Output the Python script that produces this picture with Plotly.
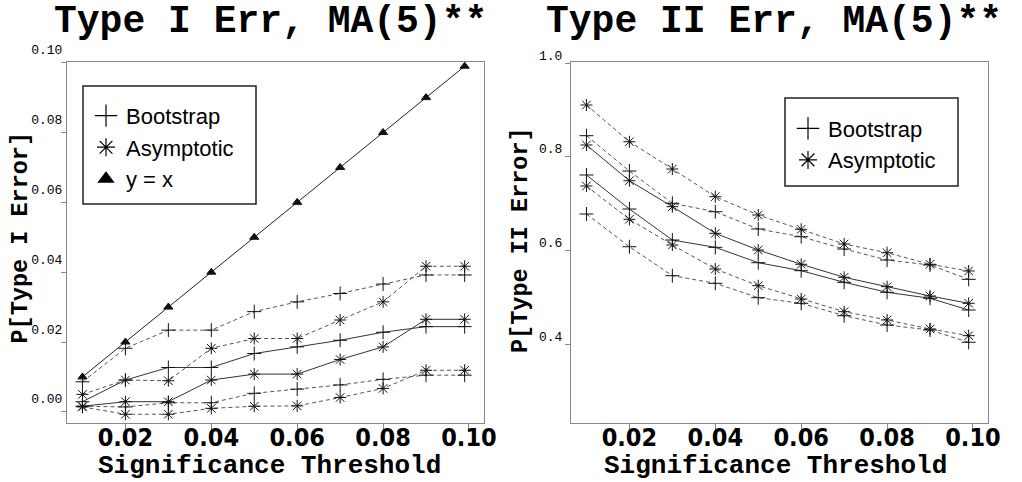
import plotly.graph_objects as go

# ---------------- data ----------------
thresholds = [0.01, 0.02, 0.03, 0.04, 0.05, 0.06, 0.07, 0.08, 0.09, 0.099]

# Type I error (left panel)
t1_boot_mid = [0.0029, 0.0091, 0.0127, 0.0127, 0.0167, 0.0186, 0.0205, 0.0228, 0.0244, 0.0244]
t1_boot_hi = [0.0086, 0.0182, 0.0234, 0.0234, 0.0287, 0.0315, 0.0339, 0.0366, 0.0392, 0.0392]
t1_boot_lo = [0.0016, 0.0014, 0.0026, 0.0026, 0.0053, 0.0065, 0.0077, 0.0093, 0.0105, 0.0105]
t1_asym_mid = [0.0016, 0.0029, 0.0029, 0.0091, 0.0108, 0.0108, 0.0150, 0.0186, 0.0265, 0.0265]
t1_asym_hi = [0.0050, 0.0091, 0.0089, 0.0182, 0.0210, 0.0210, 0.0263, 0.0315, 0.0417, 0.0417]
t1_asym_lo = [0.0014, -0.0007, -0.0007, 0.0010, 0.0016, 0.0017, 0.0041, 0.0067, 0.0119, 0.0119]
t1_identity = thresholds

# Type II error (right panel)
t2_boot_mid = [0.7614, 0.6888, 0.6226, 0.6070, 0.5742, 0.5571, 0.5323, 0.5110, 0.4982, 0.4732]
t2_boot_hi = [0.8453, 0.7699, 0.7010, 0.6830, 0.6461, 0.6297, 0.6034, 0.5799, 0.5693, 0.5387]
t2_boot_lo = [0.6781, 0.6083, 0.5464, 0.5302, 0.4995, 0.4875, 0.4610, 0.4412, 0.4305, 0.4043]
t2_asym_mid = [0.8254, 0.7492, 0.6938, 0.6369, 0.6013, 0.5708, 0.5430, 0.5230, 0.5031, 0.4875]
t2_asym_hi = [0.9108, 0.8324, 0.7742, 0.7151, 0.6760, 0.6455, 0.6141, 0.5955, 0.5708, 0.5565]
t2_asym_lo = [0.7379, 0.6668, 0.6120, 0.5607, 0.5251, 0.4967, 0.4696, 0.4519, 0.4327, 0.4184]

x_ticks = [0.02, 0.04, 0.06, 0.08, 0.10]
y1_ticks = [0.00, 0.02, 0.04, 0.06, 0.08, 0.10]
y2_ticks = [0.4, 0.6, 0.8, 1.0]

titles = ["Type I Err, MA(5)**", "Type II Err, MA(5)**"]
y_titles = ["P[Type I Error]", "P[Type II Error]"]
x_title = "Significance Threshold"
legend_names = ["Bootstrap", "Asymptotic", "y = x"]

# ---------------- styling ----------------
W, H = 1022, 482
MONO = "Liberation Mono, Courier New, monospace"
SANS = "Liberation Sans, Arial, sans-serif"
TICKX = "DejaVu Sans Condensed, Liberation Sans Narrow, sans-serif"
BOOT_SYM = "cross-thin-open"
ASYM_SYM = "asterisk-open"
DASH = "4px,3px"

fig = go.Figure()


def add_line(x, y, sym, dashed, xa, ya, color, size=10):
    fig.add_trace(go.Scatter(
        x=x, y=y, mode="lines+markers", xaxis=xa, yaxis=ya, showlegend=False,
        line=dict(color=color, width=1, dash=DASH if dashed else "solid"),
        marker=dict(symbol=sym, size=size, color="#111", line=dict(color="#111", width=1)),
        hoverinfo="skip"))


SOLID_C = "#333333"
DASH_C = "#555555"

# left panel
add_line(thresholds, t1_identity, "triangle-up", False, "x", "y", "#222222", size=8)
add_line(thresholds, t1_boot_hi, BOOT_SYM, True, "x", "y", DASH_C)
add_line(thresholds, t1_boot_mid, BOOT_SYM, False, "x", "y", SOLID_C)
add_line(thresholds, t1_boot_lo, BOOT_SYM, True, "x", "y", DASH_C)
add_line(thresholds, t1_asym_hi, ASYM_SYM, True, "x", "y", DASH_C)
add_line(thresholds, t1_asym_mid, ASYM_SYM, False, "x", "y", SOLID_C)
add_line(thresholds, t1_asym_lo, ASYM_SYM, True, "x", "y", DASH_C)

# right panel
add_line(thresholds, t2_boot_hi, BOOT_SYM, True, "x2", "y2", DASH_C)
add_line(thresholds, t2_boot_mid, BOOT_SYM, False, "x2", "y2", SOLID_C)
add_line(thresholds, t2_boot_lo, BOOT_SYM, True, "x2", "y2", DASH_C)
add_line(thresholds, t2_asym_hi, ASYM_SYM, True, "x2", "y2", DASH_C)
add_line(thresholds, t2_asym_mid, ASYM_SYM, False, "x2", "y2", SOLID_C)
add_line(thresholds, t2_asym_lo, ASYM_SYM, True, "x2", "y2", DASH_C)


# legend-only traces
def add_legend(name, sym, legend, size):
    fig.add_trace(go.Scatter(
        x=[None], y=[None], mode="markers", name=name, legend=legend,
        xaxis="x" if legend == "legend" else "x2", yaxis="y" if legend == "legend" else "y2",
        marker=dict(symbol=sym, size=size, color="#000", line=dict(color="#000", width=1.2))))


add_legend(legend_names[0], BOOT_SYM, "legend", 16)
add_legend(legend_names[1], ASYM_SYM, "legend", 15)
add_legend(legend_names[2], "triangle-up", "legend", 13)
add_legend(legend_names[0], BOOT_SYM, "legend2", 16)
add_legend(legend_names[1], ASYM_SYM, "legend2", 15)

axis_common = dict(
    showgrid=False, zeroline=False, showline=True, mirror=True, automargin=False,
    linecolor="#888888", linewidth=1, ticks="outside", tickcolor="#888888",
    tickwidth=1,
)

xdom1 = [67 / W, 484 / W]
xdom2 = [571 / W, 988 / W]
ydom = [1 - 423 / H, 1 - 62 / H]

xtick_font = dict(family=TICKX, size=25, color="#000", weight="bold")
ytick_font = dict(family=MONO, size=13, color="#000")
legend_font = dict(family=SANS, size=22, color="#000")

fig.update_layout(
    width=W, height=H,
    margin=dict(l=0, r=0, t=0, b=0, autoexpand=False),
    paper_bgcolor="white", plot_bgcolor="white",
    xaxis=dict(domain=xdom1, anchor="y", range=[0.0064, 0.1035], tickvals=x_ticks,
               tickformat=".2f", ticklen=7, ticklabelstandoff=-15, tickfont=xtick_font,
               **axis_common),
    yaxis=dict(domain=ydom, anchor="x", range=[-0.0032, 0.1002], tickvals=y1_ticks,
               tickformat=".2f", ticklen=5, ticklabelshift=-13, ticklabelstandoff=-4,
               tickfont=ytick_font, **axis_common),
    xaxis2=dict(domain=xdom2, anchor="y2", range=[0.0064, 0.1035], tickvals=x_ticks,
                tickformat=".2f", ticklen=7, ticklabelstandoff=-15, tickfont=xtick_font,
                **axis_common),
    yaxis2=dict(domain=ydom, anchor="x2", range=[0.232, 1.0026], tickvals=y2_ticks,
                tickformat=".1f", ticklen=5, ticklabelshift=-8,
                tickfont=ytick_font, **axis_common),
    legend=dict(x=86 / W, y=1 - 87 / H, xanchor="left", yanchor="top",
                bgcolor="rgba(0,0,0,0)", borderwidth=0,
                font=legend_font, title=dict(text=" ", font=dict(size=6)),
                itemsizing="trace"),
    legend2=dict(x=788 / W, y=1 - 101 / H, xanchor="left", yanchor="top",
                 bgcolor="rgba(0,0,0,0)", borderwidth=0,
                 font=legend_font, title=dict(text=" ", font=dict(size=5)),
                 itemsizing="trace"),
    shapes=[
        dict(type="rect", xref="paper", yref="paper", x0=83 / W, x1=256 / W,
             y0=1 - 204 / H, y1=1 - 86 / H, line=dict(color="#222", width=1.5),
             fillcolor="rgba(0,0,0,0)", layer="above"),
        dict(type="rect", xref="paper", yref="paper", x0=785 / W, x1=958 / W,
             y0=1 - 186 / H, y1=1 - 98 / H, line=dict(color="#222", width=1.5),
             fillcolor="rgba(0,0,0,0)", layer="above"),
    ],
)

annots = []
for t, cx in zip(titles, [270, 774]):
    annots.append(dict(text=t, x=cx / W, y=1 - 22 / H, xref="paper", yref="paper",
                       xanchor="center", yanchor="middle", showarrow=False,
                       font=dict(family=MONO, size=38, color="#000", weight="bold")))
for cx in [269, 775]:
    annots.append(dict(text=x_title, x=cx / W, y=1 - 466 / H, xref="paper", yref="paper",
                       xanchor="center", yanchor="middle", showarrow=False,
                       font=dict(family=MONO, size=26, color="#000", weight="bold")))
for t, cx, cy in zip(y_titles, [20, 520], [237.5, 240]):
    annots.append(dict(text=t, x=cx / W, y=1 - cy / H, xref="paper", yref="paper",
                       xanchor="center", yanchor="middle", showarrow=False, textangle=-90,
                       font=dict(family=MONO, size=23.5, color="#000", weight="bold")))
fig.update_layout(annotations=annots)

fig.write_html(
    "out.html",
    config={"displayModeBar": False},
    post_script="document.body.style.margin='0';document.body.style.overflow='hidden';",
)
